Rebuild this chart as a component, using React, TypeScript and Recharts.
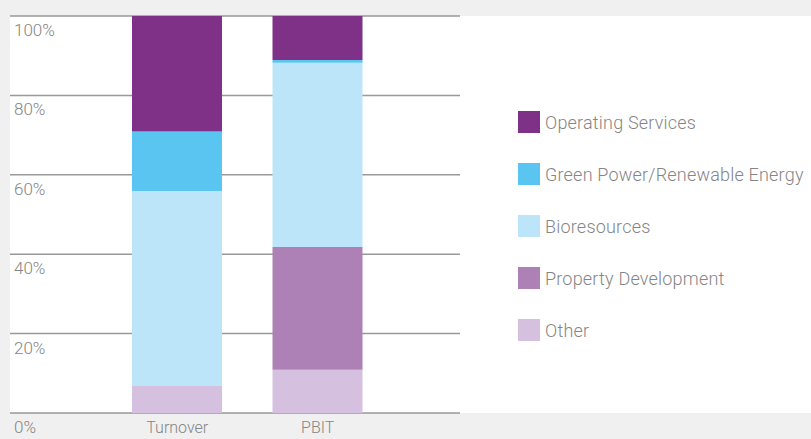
import { BarChart, Bar, XAxis, YAxis, CartesianGrid } from "recharts";

const categories = ["Turnover", "PBIT"];
const other = [6.8, 10.9];
const propertyDev = [0, 30.9];
const bioresources = [49.1, 46.4];
const greenPower = [15.0, 0.7];
const operating = [29.1, 11.1];
const yTicks = [0, 20, 40, 60, 80, 100];

// stack order bottom -> top
const SERIES = [
  { key: "other", name: "Other", color: "#d5c1df", values: other },
  { key: "property", name: "Property Development", color: "#ad80b6", values: propertyDev },
  { key: "bio", name: "Bioresources", color: "#bde5f9", values: bioresources },
  { key: "green", name: "Green Power/Renewable Energy", color: "#5bc5f2", values: greenPower },
  { key: "operating", name: "Operating Services", color: "#7f3087", values: operating },
];

const data = categories.map((name, i) => {
  const row: Record<string, string | number> = { name };
  SERIES.forEach((s) => (row[s.key] = s.values[i]));
  return row;
});

const FONT = "Roboto, sans-serif";
const TEXT = "#858585";

const YTick = (props: any) => {
  const { x, y, payload } = props;
  return (
    <text x={x + 4} y={y + 20} fill={TEXT} fontSize={17} fontFamily={FONT} fontWeight={300} textAnchor="start">
      {payload.value}%
    </text>
  );
};

const XTick = (props: any) => {
  const { x, y, payload } = props;
  return (
    <text x={x} y={y + 12} fill={TEXT} fontSize={16} fontFamily={FONT} fontWeight={300} textAnchor="middle">
      {payload.value}
    </text>
  );
};

const LegendBox = () => (
  <div style={{ position: "absolute", left: 518, top: 96, fontFamily: FONT, fontWeight: 300 }}>
    {[...SERIES].reverse().map((s) => (
      <div key={s.key} style={{ display: "flex", alignItems: "center", height: 52 }}>
        <span style={{ width: 22, height: 22, background: s.color, display: "inline-block", marginRight: 5 }} />
        <span style={{ color: TEXT, fontSize: 18, letterSpacing: 0.2 }}>{s.name}</span>
      </div>
    ))}
  </div>
);

const App = () => {
  return (
    <div style={{ position: "fixed", left: 0, top: 0, width: 811, height: 439, background: "#f0f0f0" }}>
      <div style={{ position: "absolute", left: 10, top: 16, width: 801, height: 397, background: "#fff" }} />
      <div style={{ position: "absolute", left: 0, top: 0 }}>
        <BarChart width={811} height={439} data={data} margin={{ top: 16, right: 351, bottom: 0, left: -20 }}>
          <CartesianGrid vertical={false} stroke="#999" strokeWidth={1.5} />
          <XAxis
            dataKey="name"
            axisLine={false}
            tickLine={false}
            height={26}
            padding={{ left: 97, right: 72 }}
            tick={<XTick />}
            interval={0}
          />
          <YAxis
            width={30}
            domain={[0, 100]}
            ticks={yTicks}
            axisLine={false}
            tickLine={false}
            tickSize={0}
            tickMargin={0}
            tick={<YTick />}
          />
          {SERIES.map((s) => (
            <Bar key={s.key} dataKey={s.key} name={s.name} stackId="a" fill={s.color} barSize={90} isAnimationActive={false} />
          ))}
        </BarChart>
      </div>
      <LegendBox />
    </div>
  );
};

export default App;
